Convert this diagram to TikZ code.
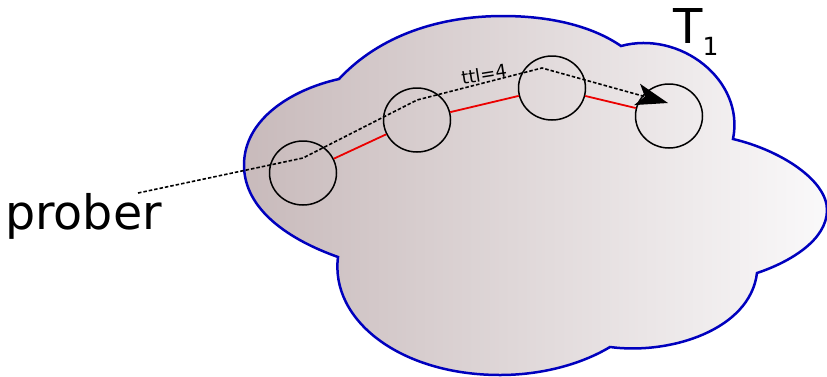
\documentclass[tikz,border=0pt]{standalone}
\usepackage{fontspec}
\setmainfont{DejaVu Sans}
\usetikzlibrary{arrows.meta,shapes.geometric}
\definecolor{cloudblue}{RGB}{0,0,190}
\definecolor{cloudleft}{RGB}{200,186,187}
\definecolor{cloudright}{RGB}{250,249,250}
\definecolor{linkred}{RGB}{235,0,0}
\tikzset{
  hop/.style={ellipse,draw,line width=1.5pt,minimum width=67pt,minimum height=64pt,inner sep=0pt},
  link/.style={linkred,line width=1.8pt},
  probe/.style={line width=1.6pt,dash pattern=on 3.5pt off 2pt},
}

\begin{document}
\begin{tikzpicture}[x=1pt,y=-1pt,>=Stealth]
  \useasboundingbox (0,0) rectangle (827,376);
  % the cloud, lobes from the top left cusp round clockwise
  \shade[left color=cloudleft,right color=cloudright,draw=cloudblue,line width=2.5pt]
    (339,79) .. controls (380,35) and (440,16) .. (503,16)
    .. controls (555,16) and (595,28) .. (621,46)
    .. controls (680,30) and (745,80) .. (733,139)
    .. controls (780,150) and (827,180) .. (827,210)
    .. controls (827,240) and (790,262) .. (757,273)
    .. controls (750,330) and (670,355) .. (610,347)
    .. controls (580,365) and (540,375) .. (500,375)
    .. controls (400,375) and (330,320) .. (338,257)
    .. controls (290,240) and (244,210) .. (244,165)
    .. controls (244,120) and (290,90) .. (339,79) -- cycle;
  % hops
  \node[hop] (h1) at (303,173) {};
  \node[hop] (h2) at (417,120) {};
  \node[hop] (h3) at (552,88) {};
  \node[hop] (h4) at (669,116) {};
  \draw[link] (h1) -- (h2);
  \draw[link] (h2) -- (h3);
  \draw[link] (h3) -- (h4);
  % labels
  \node[anchor=base west,inner sep=0pt,font=\fontsize{47.5}{47.5}\selectfont] (prober) at (5,229) {prober};
  \node[anchor=base west,inner sep=0pt,font=\fontsize{48}{48}\selectfont] (tone) at (673,43)
    {T\raisebox{-12pt}{\fontsize{25}{25}\selectfont 1}};
  % the probe path
  \coordinate (p0) at (138,193);
  \coordinate (p1) at (303,158);
  \coordinate (p2) at (417,100);
  \coordinate (p3) at (542,68);
  \coordinate (p4) at (668,103);
  \draw[probe,-{Stealth[length=32pt,width=22pt,inset=8pt]}] (p0) -- (p1) -- (p2) -- (p3) -- (p4);
  \node[rotate=9,font=\fontsize{18}{18}\selectfont,inner sep=0pt] (ttl) at (484,74) {ttl=4};
\end{tikzpicture}
\end{document}
